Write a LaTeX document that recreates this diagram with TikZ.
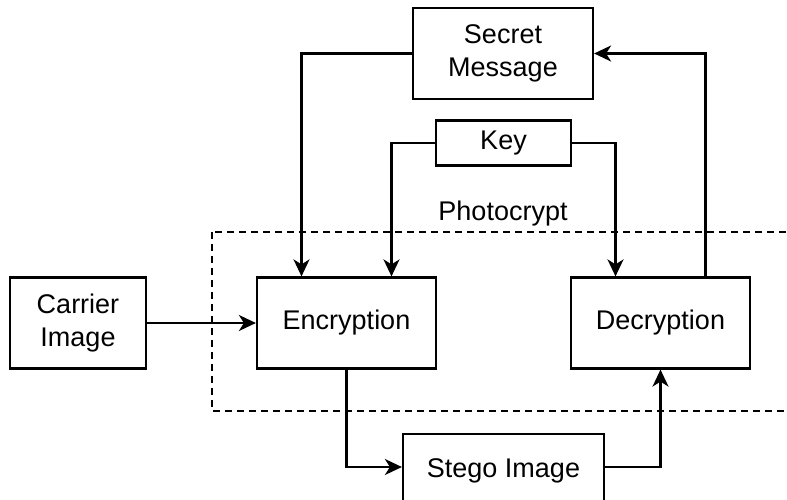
\documentclass[tikz,border=0pt]{standalone}
\usepackage{fontspec}
\setmainfont{Liberation Sans}
\usetikzlibrary{arrows.meta}
\begin{document}
\begin{tikzpicture}[x=1pt, y=1pt, line width=2.2pt,
    block/.style={draw, rectangle, align=center, font=\fontsize{27}{33}\selectfont},
    arr/.style={line width=2.2pt, -{Stealth[length=17pt, width=16pt, inset=5pt]}}]
    \useasboundingbox (0,0) rectangle (787,-500);
    \clip (0,0) rectangle (787,-500);

    % dashed photocrypt frame
    \draw[dash pattern=on 7pt off 5pt] (212,-232) rectangle (800,-411);
    \node[font=\fontsize{27}{32}\selectfont] (title) at (503,-214) {Photocrypt};

    \node[block, minimum width=180pt, minimum height=91pt] (secret) at (503,-53.5) {Secret\\Message};
    \node[block, minimum width=135pt, minimum height=45pt] (key) at (503.5,-143) {Key};
    \node[block, minimum width=136pt, minimum height=91pt] (carrier) at (78,-323) {Carrier\\Image};
    \node[block, minimum width=179pt, minimum height=91pt] (enc) at (346.5,-323) {Encryption};
    \node[block, minimum width=179pt, minimum height=91pt] (dec) at (660.5,-323) {Decryption};
    \node[block, minimum width=201pt, minimum height=74pt] (stego) at (503.5,-471) {Stego Image};

    \draw[arr] (secret.west) -| ([xshift=-45pt]enc.north);
    \draw[arr] (key.west) -| ([xshift=45pt]enc.north);
    \draw[arr] (key.east) -| ([xshift=-45pt]dec.north);
    \draw[arr] ([xshift=45pt]dec.north) |- (secret.east);
    \draw[arr] (carrier) -- (enc);
    \draw[arr] (enc) |- ([yshift=4pt]stego.west);
    \draw[arr] ([yshift=4pt]stego.east) -| (dec);
  \end{tikzpicture}
\end{document}
